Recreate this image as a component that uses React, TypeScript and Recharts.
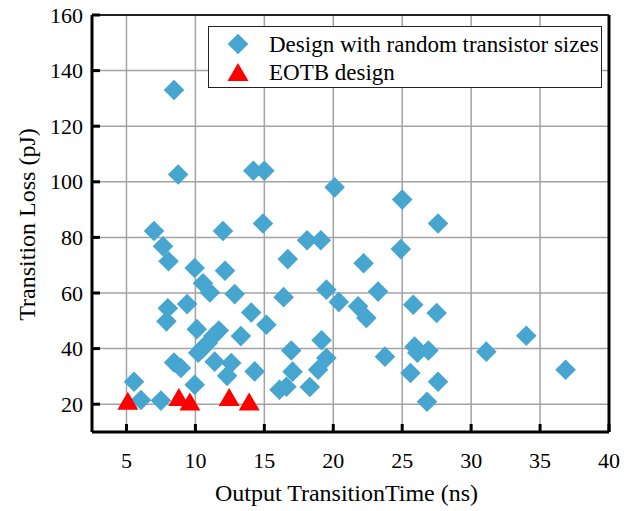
import { ScatterChart, Scatter, XAxis, YAxis, CartesianGrid, Legend, ReferenceLine } from 'recharts';

const FONT = '"Liberation Serif", "Times New Roman", serif';
const BLUE = '#47A6CF';
const RED = '#FF0000';

// Design with random transistor sizes
const randomTime = [
  8.45, 8.75, 14.2, 15.0, 20.1, 25.0, 27.6, 14.9, 7.0, 12.0,
  7.65, 8.05, 9.95, 12.15, 18.1, 19.1, 16.7, 22.2, 24.9, 10.55,
  11.05, 12.85, 19.5, 20.4, 16.4, 9.4, 8.0, 7.9, 14.05, 15.15,
  23.25, 21.8, 22.4, 25.8, 27.5, 10.1, 11.7, 11.3, 10.9, 10.5,
  10.2, 11.4, 13.3, 12.6, 12.3, 14.3, 16.95, 19.15, 19.5, 18.9,
  17.05, 18.3, 16.6, 16.1, 8.45, 8.95, 5.55, 6.05, 7.5, 9.95,
  23.75, 25.9, 26.1, 26.9, 25.6, 27.6, 26.8, 31.1, 34.0, 36.85,
];
const randomLoss = [
  133, 102.6, 104, 104, 98, 93.6, 85, 85, 82.3, 82.3,
  76.8, 71.4, 69, 68, 79, 79, 72.2, 70.7, 75.8, 63.5,
  60.2, 59.6, 61.2, 56.8, 58.5, 56, 54.5, 49.8, 53, 48.6,
  60.5, 55.2, 51, 55.8, 52.8, 47, 46.5, 44.5, 42, 40,
  38.5, 35.3, 44.5, 34.8, 30.2, 31.8, 39.3, 43, 36.6, 32.4,
  31.7, 26.2, 26.3, 25.2, 35, 33, 28.1, 21.5, 21.3, 27,
  37.1, 40.7, 38.5, 39.3, 31.2, 28.1, 20.9, 38.9, 44.6, 32.4,
];

// EOTB design
const eotbTime = [5.1, 8.8, 9.6, 12.45, 13.9];
const eotbLoss = [21.2, 22.6, 21.0, 22.6, 21.0];

const xTicks = [5, 10, 15, 20, 25, 30, 35, 40];
const yTicks = [20, 40, 60, 80, 100, 120, 140, 160];

const randomData = randomTime.map((t, i) => ({ t, loss: randomLoss[i] }));
const eotbData = eotbTime.map((t, i) => ({ t, loss: eotbLoss[i] }));

const Diamond = ({ cx, cy }: any) => {
  const r = 10.3;
  return <polygon points={`${cx},${cy - r} ${cx + r},${cy} ${cx},${cy + r} ${cx - r},${cy}`} fill={BLUE} />;
};

const Triangle = ({ cx, cy }: any) => {
  const w = 10.5;
  const h = 9;
  return <polygon points={`${cx},${cy - h} ${cx + w},${cy + h} ${cx - w},${cy + h}`} fill={RED} />;
};

const XTick = ({ x, y, payload }: any) => (
  <g>
    <line x1={x} x2={x} y1={y} y2={y - 8} stroke="#000" strokeWidth={3} />
    <text x={x} y={y + 28} textAnchor="middle" dominantBaseline="central" fontFamily={FONT} fontSize={22} fill="#000">
      {payload.value}
    </text>
  </g>
);

const YTick = ({ x, y, payload }: any) => (
  <g>
    <line x1={x} x2={x + 8} y1={y} y2={y} stroke="#000" strokeWidth={3} />
    <text x={x - 9} y={y} textAnchor="end" dominantBaseline="central" fontFamily={FONT} fontSize={22} fill="#000">
      {payload.value}
    </text>
  </g>
);

const XTitle = ({ viewBox }: any) => (
  <text x={viewBox.x + viewBox.width / 2 - 4} y={493} textAnchor="middle" dominantBaseline="central" fontFamily={FONT} fontSize={24} fill="#000">
    Output TransitionTime (ns)
  </text>
);

const YTitle = ({ viewBox }: any) => {
  const cy = viewBox.y + viewBox.height / 2 + 1;
  return (
    <text x={27} y={cy} transform={`rotate(-90, 27, ${cy})`} textAnchor="middle" dominantBaseline="central" fontFamily={FONT} fontSize={24} fill="#000">
      Transition Loss (pJ)
    </text>
  );
};

const LegendBox = () => (
  <div style={{ width: 394, height: 62, boxSizing: 'border-box', border: '1.5px solid #222', background: '#fff', position: 'relative', fontFamily: FONT, fontSize: 23, color: '#000' }}>
    <svg width={60} height={62} style={{ position: 'absolute', left: 0, top: 0 }}>
      <polygon points="29,6.7 39.3,17 29,27.3 18.7,17" fill={BLUE} />
      <polygon points="29,36 39.5,54 18.5,54" fill={RED} />
    </svg>
    <div style={{ position: 'absolute', left: 60, top: 17, transform: 'translateY(-50%)', whiteSpace: 'nowrap', lineHeight: 1 }}>
      Design with random transistor sizes
    </div>
    <div style={{ position: 'absolute', left: 60, top: 45, transform: 'translateY(-50%)', whiteSpace: 'nowrap', lineHeight: 1 }}>
      EOTB design
    </div>
  </div>
);

export default function App() {
  return (
    <div style={{ position: 'absolute', left: 0, top: 0, width: 637, height: 511, background: '#fff' }}>
      <ScatterChart width={637} height={511} margin={{ top: 15, right: 28, bottom: 0, left: 0 }}>
        <CartesianGrid stroke="#A3A3A3" strokeWidth={1.5} />
        <XAxis
          type="number"
          dataKey="t"
          domain={[2.5, 40]}
          ticks={xTicks}
          allowDataOverflow
          height={79}
          tickSize={0}
          tickMargin={0}
          tickLine={false}
          tick={<XTick />}
          axisLine={{ stroke: '#000', strokeWidth: 3 }}
          label={<XTitle />}
        />
        <YAxis
          type="number"
          dataKey="loss"
          domain={[10, 160]}
          ticks={yTicks}
          allowDataOverflow
          width={92}
          tickSize={0}
          tickMargin={0}
          tickLine={false}
          tick={<YTick />}
          axisLine={{ stroke: '#000', strokeWidth: 3 }}
          label={<YTitle />}
        />
        <ReferenceLine x={40} stroke="#000" strokeWidth={3} />
        <ReferenceLine y={160} stroke="#222" strokeWidth={2} />
        <Legend
          layout="horizontal"
          verticalAlign="middle"
          align="center"
          content={<LegendBox />}
          wrapperStyle={{ left: 208, top: 26, width: 394, height: 62 }}
        />
        <Scatter name="Design with random transistor sizes" data={randomData} shape={<Diamond />} isAnimationActive={false} />
        <Scatter name="EOTB design" data={eotbData} shape={<Triangle />} isAnimationActive={false} />
      </ScatterChart>
    </div>
  );
}
